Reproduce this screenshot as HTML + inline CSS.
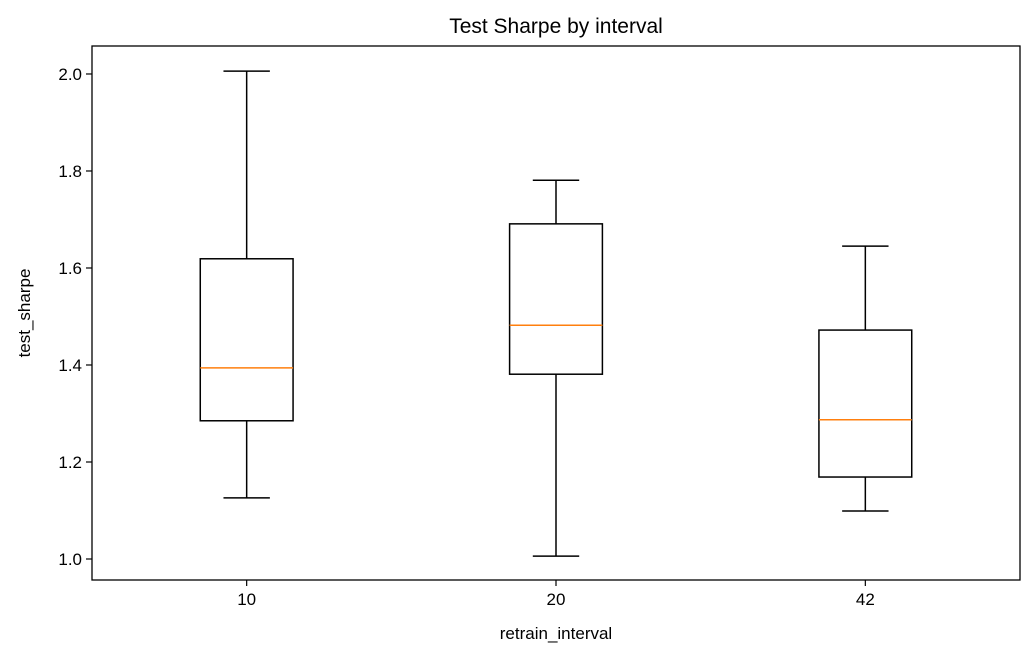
<!DOCTYPE html>
<html><head><meta charset="utf-8"><style>
body{margin:0;background:#fff;}
svg text{font-family:"Liberation Sans","DejaVu Sans",sans-serif;fill:#000;}
</style></head><body>
<svg id="chart" width="1035" height="660" xmlns="http://www.w3.org/2000/svg">
<rect width="1035" height="660" fill="#fff"/>
<text x="556" y="33" font-size="21" text-anchor="middle">Test Sharpe by interval</text>
<text x="556" y="639" font-size="17" text-anchor="middle">retrain_interval</text>
<text transform="translate(30,313) rotate(-90)" font-size="17" text-anchor="middle">test_sharpe</text>
<g id="marks"></g>
<rect x="92" y="46" width="928" height="534" fill="none" stroke="#000" stroke-width="1.3"/>
</svg>
<script>
const categories = ["10","20","42"];
const whiskerHigh = [2.006, 1.781, 1.645];
const q3 = [1.619, 1.691, 1.472];
const medians = [1.394, 1.482, 1.287];
const q1 = [1.285, 1.381, 1.169];
const whiskerLow = [1.126, 1.006, 1.099];
const yTicks = [1.0, 1.2, 1.4, 1.6, 1.8, 2.0];

const L=92,R=1020,T=46,B=580,yMin=0.9567,yMax=2.0577;
const ys=v=>B-(v-yMin)/(yMax-yMin)*(B-T);
const xs=i=>L+(i+0.5)/categories.length*(R-L);
const NS="http://www.w3.org/2000/svg";
const g=document.getElementById('marks');
function mk(tag,attrs){const e=document.createElementNS(NS,tag);for(const k in attrs)e.setAttribute(k,attrs[k]);g.appendChild(e);return e;}
yTicks.forEach(v=>{
  const y=ys(v);
  const t=mk('line',{x1:L-6,x2:L,y1:y,y2:y,stroke:'#000','stroke-width':1.2});
  
  
  const l=mk('text',{x:L-10,y:y+6,'font-size':17,'text-anchor':'end'});
  l.textContent=v.toFixed(1);
  
  
});
const bw=(R-L)/categories.length*0.3, cw=bw/2;
categories.forEach((c,i)=>{
  const x=xs(i);
  const tk=mk('line',{x1:x,x2:x,y1:B,y2:B+6,stroke:'#000','stroke-width':1.2});
  
  
  const tl=mk('text',{x:x,y:B+25,'font-size':17,'text-anchor':'middle'});
  tl.textContent=c;
  
  
  const s={stroke:'#000','stroke-width':1.5,fill:'none'};
  const w1=mk('line',Object.assign({x1:x,x2:x,y1:ys(q3[i]),y2:ys(whiskerHigh[i])},s));
  
  
  const w2=mk('line',Object.assign({x1:x,x2:x,y1:ys(q1[i]),y2:ys(whiskerLow[i])},s));
  
  
  const c1=mk('line',Object.assign({x1:x-cw/2,x2:x+cw/2,y1:ys(whiskerHigh[i]),y2:ys(whiskerHigh[i])},s));
  
  
  const c2=mk('line',Object.assign({x1:x-cw/2,x2:x+cw/2,y1:ys(whiskerLow[i]),y2:ys(whiskerLow[i])},s));
  
  
  const b=mk('rect',Object.assign({x:x-bw/2,y:ys(q3[i]),width:bw,height:ys(q1[i])-ys(q3[i])},s));
  
  
  const m=mk('line',{x1:x-bw/2,x2:x+bw/2,y1:ys(medians[i]),y2:ys(medians[i]),stroke:'#ff7f0e','stroke-width':1.5});
  
  
});
</script>
</body></html>
